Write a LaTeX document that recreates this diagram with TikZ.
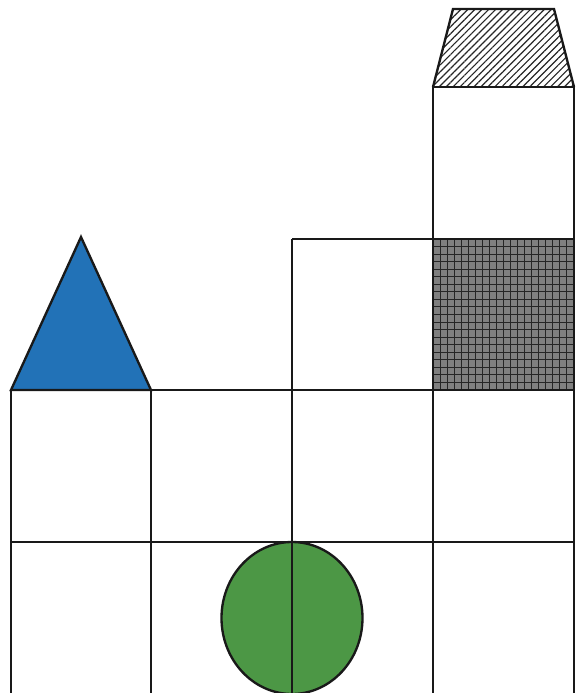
\documentclass[tikz,border=0pt]{standalone}
\usepackage{tikz}
\usetikzlibrary{patterns.meta}
\usepackage{xcolor}
\definecolor{myblue}{RGB}{34,114,183}
\definecolor{mygreen}{RGB}{76,151,69}
\definecolor{mygray}{RGB}{128,128,128}

\begin{document}
\begin{tikzpicture}[x=0.03cm, y=-0.03cm,
  edge/.style={line width=2pt, draw=black!90},
  hatchline/.style={line width=0.8pt, black!85}]
  \useasboundingbox (0,0) rectangle (582,693);
  \clip (0,0) rectangle (582,693);
  % gray cell with grid
  \fill[mygray] (433,239) rectangle (574,390);
  \foreach \k in {1,...,19} {
    \draw[hatchline] ({433+\k*141/20},239) -- ({433+\k*141/20},390);
    \draw[hatchline] (433,{239+\k*151/20}) -- (574,{239+\k*151/20});
  }
  % hatched roof
  \fill[pattern={Lines[angle=45,distance=4.2pt,line width=1pt]}, pattern color=black!85]
    (433,87) -- (453,9) -- (554,9) -- (574,87) -- cycle;
  \draw[edge, line join=miter] (433,87) -- (453,9) -- (554,9) -- (574,87);
  % triangle
  \draw[edge, fill=myblue, line join=miter] (11,390) -- (81,237) -- (151,390) -- cycle;
  % circle
  \draw[edge, fill=mygreen] (292,618) ellipse [x radius=70.5, y radius=76];
  % grid lines
  \draw[edge] (11,390) -- (574,390);
  \draw[edge] (11,542) -- (574,542);
  \draw[edge] (292,239) -- (574,239);
  \draw[edge] (433,87) -- (574,87);
  \draw[edge] (11,390) -- (11,700);
  \draw[edge] (151,390) -- (151,700);
  \draw[edge] (292,239) -- (292,700);
  \draw[edge] (433,87) -- (433,700);
  \draw[edge] (574,87) -- (574,700);
\end{tikzpicture}
\end{document}
